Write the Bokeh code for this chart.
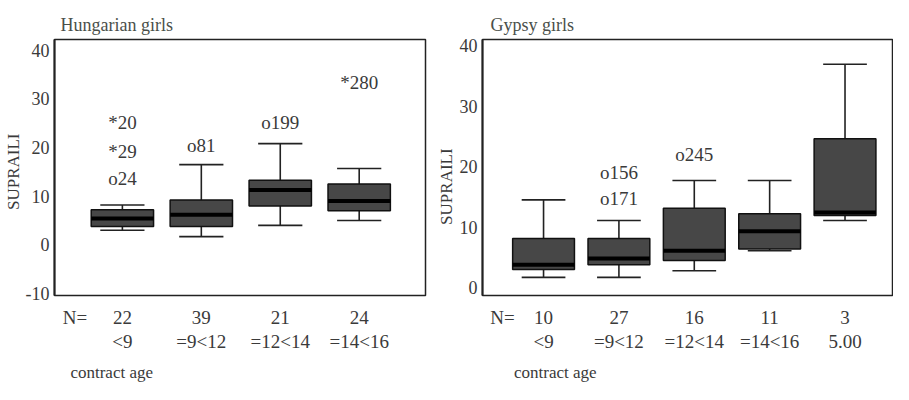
import numpy as np
from bokeh.plotting import figure
from bokeh.layouts import row
from bokeh.models import Label, FixedTicker, ColumnDataSource, LinearAxis
from bokeh.embed import file_html
from bokeh.resources import INLINE

# ---------------- data ----------------
hu_cats = ["<9", "=9<12", "=12<14", "=14<16"]
hu_n = [22, 39, 21, 24]
hu_wlo = [3.0, 1.7, 4.0, 5.0]
hu_q1 = [3.8, 3.8, 8.0, 7.0]
hu_med = [5.4, 6.2, 11.3, 9.0]
hu_q3 = [7.2, 9.2, 13.3, 12.5]
hu_whi = [8.2, 16.5, 20.8, 15.7]
hu_out_pos = [1, 1, 1, 2, 3, 4]
hu_out_val = [25.2, 19.1, 13.7, 20.4, 25.2, 33.3]
hu_out_lab = ["*20", "*29", "o24", "o81", "o199", "*280"]
hu_yticks = [-10, 0, 10, 20, 30, 40]

gy_cats = ["<9", "=9<12", "=12<14", "=14<16", "5.00"]
gy_n = [10, 27, 16, 11, 3]
gy_wlo = [1.7, 1.7, 2.8, 6.1, 11.1]
gy_q1 = [3.0, 3.8, 4.5, 6.4, 11.9]
gy_med = [3.8, 4.8, 6.1, 9.3, 12.4]
gy_q3 = [8.1, 8.1, 13.1, 12.2, 24.6]
gy_whi = [14.5, 11.1, 17.7, 17.7, 36.9]
gy_out_pos = [2, 2, 3]
gy_out_val = [19.0, 14.8, 22.0]
gy_out_lab = ["o156", "o171", "o245"]
gy_yticks = [0, 10, 20, 30, 40]

FONT = "Liberation Serif"
TXT = "#3a3a3a"
BOXC = "#474747"
FS = "19px"


def style_below(ax, standoff):
    ax.axis_line_color = None
    ax.major_tick_line_color = None
    ax.minor_tick_line_color = None
    ax.major_tick_out = 0
    ax.major_tick_in = 0
    ax.major_label_standoff = standoff
    ax.major_label_text_font = FONT
    ax.major_label_text_font_size = FS
    ax.major_label_text_color = TXT


def make_panel(title, cats, n, wlo, q1, med, q3, whi, opos, oval, olab, yticks,
               width, height, xr, yr, mb, box_w, cap_w,
               x_n, x_ca, sto, ylab, ylab_sto, title_off):
    p = figure(width=width, height=height, x_range=xr, y_range=yr,
               output_backend="svg", toolbar_location=None,
               min_border_left=mb[0], min_border_right=mb[1],
               min_border_top=mb[2], min_border_bottom=mb[3])
    p.title.text = title
    p.title.text_font = FONT
    p.title.text_font_size = "18px"
    p.title.text_font_style = "normal"
    p.title.text_color = "#4a4f4a"
    p.title.offset = title_off
    p.grid.visible = False
    p.outline_line_color = "#222222"
    p.outline_line_width = 1.5

    ax = p.yaxis[0]
    ax.ticker = FixedTicker(ticks=yticks)
    ax.major_label_overrides = {t: str(t) for t in yticks}
    ax.axis_line_color = "#222222"
    ax.axis_line_width = 2
    ax.major_tick_line_color = None
    ax.minor_tick_line_color = None
    ax.major_tick_out = 0
    ax.major_tick_in = 0
    ax.major_label_standoff = 5
    ax.major_label_text_font = FONT
    ax.major_label_text_font_size = "18px"
    ax.major_label_text_color = TXT
    ax.axis_label = ylab
    ax.axis_label_standoff = ylab_sto
    ax.axis_label_text_font = FONT
    ax.axis_label_text_font_size = "17px"
    ax.axis_label_text_font_style = "normal"
    ax.axis_label_text_color = TXT

    x = np.arange(1, len(cats) + 1)

    # counts axis (with "N=")
    xa = p.xaxis[0]
    xa.ticker = FixedTicker(ticks=[x_n] + [int(v) for v in x])
    ov = {x_n: "N="}
    ov.update({int(xi): str(ni) for xi, ni in zip(x, n)})
    xa.major_label_overrides = ov
    style_below(xa, sto[0])

    # category axis
    ca = LinearAxis(ticker=FixedTicker(ticks=[int(v) for v in x]),
                    major_label_overrides={int(xi): ci for xi, ci in zip(x, cats)})
    style_below(ca, sto[1])
    p.add_layout(ca, "below")

    # "contract age" axis
    ga = LinearAxis(ticker=FixedTicker(ticks=[x_ca]),
                    major_label_overrides={x_ca: "contract age"})
    style_below(ga, sto[2])
    ga.major_label_text_font_size = "17px"
    p.add_layout(ga, "below")

    src = ColumnDataSource(dict(
        x=x, wlo=wlo, q1=q1, med=med, q3=q3, whi=whi,
        bx0=x - box_w / 2, bx1=x + box_w / 2,
        cx0=x - cap_w / 2, cx1=x + cap_w / 2))
    p.segment(x0="x", y0="wlo", x1="x", y1="whi", source=src,
              line_color="#222222", line_width=1.6)
    p.segment(x0="cx0", y0="whi", x1="cx1", y1="whi", source=src,
              line_color="#222222", line_width=1.6)
    p.segment(x0="cx0", y0="wlo", x1="cx1", y1="wlo", source=src,
              line_color="#222222", line_width=1.6)
    p.quad(left="bx0", right="bx1", bottom="q1", top="q3", source=src,
           fill_color=BOXC, line_color="#111111", line_width=1.5)
    p.segment(x0="bx0", y0="med", x1="bx1", y1="med", source=src,
              line_color="#000000", line_width=4)

    for xo, yo, lo in zip(opos, oval, olab):
        p.add_layout(Label(x=xo, y=yo, text=lo, text_font=FONT,
                           text_font_size=FS, text_color=TXT,
                           text_align="center", text_baseline="middle"))
    return p


H = 384
NB = "\u00a0"
p1 = make_panel("Hungarian girls", hu_cats, hu_n, hu_wlo, hu_q1, hu_med, hu_q3,
                hu_whi, hu_out_pos, hu_out_val, hu_out_lab, hu_yticks,
                width=433, height=H, xr=(0.14, 4.84), yr=(-10.4, 42.2),
                mb=(49, 8, 36, 80), box_w=0.79, cap_w=0.56,
                x_n=0.40, x_ca=0.865, sto=(11, 0, 8),
                ylab="SUPRAILI" + NB * 2, ylab_sto=0, title_off=6)

p2 = make_panel("Gypsy girls", gy_cats, gy_n, gy_wlo, gy_q1, gy_med, gy_q3,
                gy_whi, gy_out_pos, gy_out_val, gy_out_lab, gy_yticks,
                width=460, height=H, xr=(0.19, 5.63), yr=(-1.3, 41.0),
                mb=(48, 1, 39, 80), box_w=0.82, cap_w=0.58,
                x_n=0.455, x_ca=1.157, sto=(11, 0, 8),
                ylab="SUPRAILI" + NB * 9,
                ylab_sto=1, title_off=8)

layout = row(p1, p2)
open("out.html", "w").write(file_html(layout, INLINE))
